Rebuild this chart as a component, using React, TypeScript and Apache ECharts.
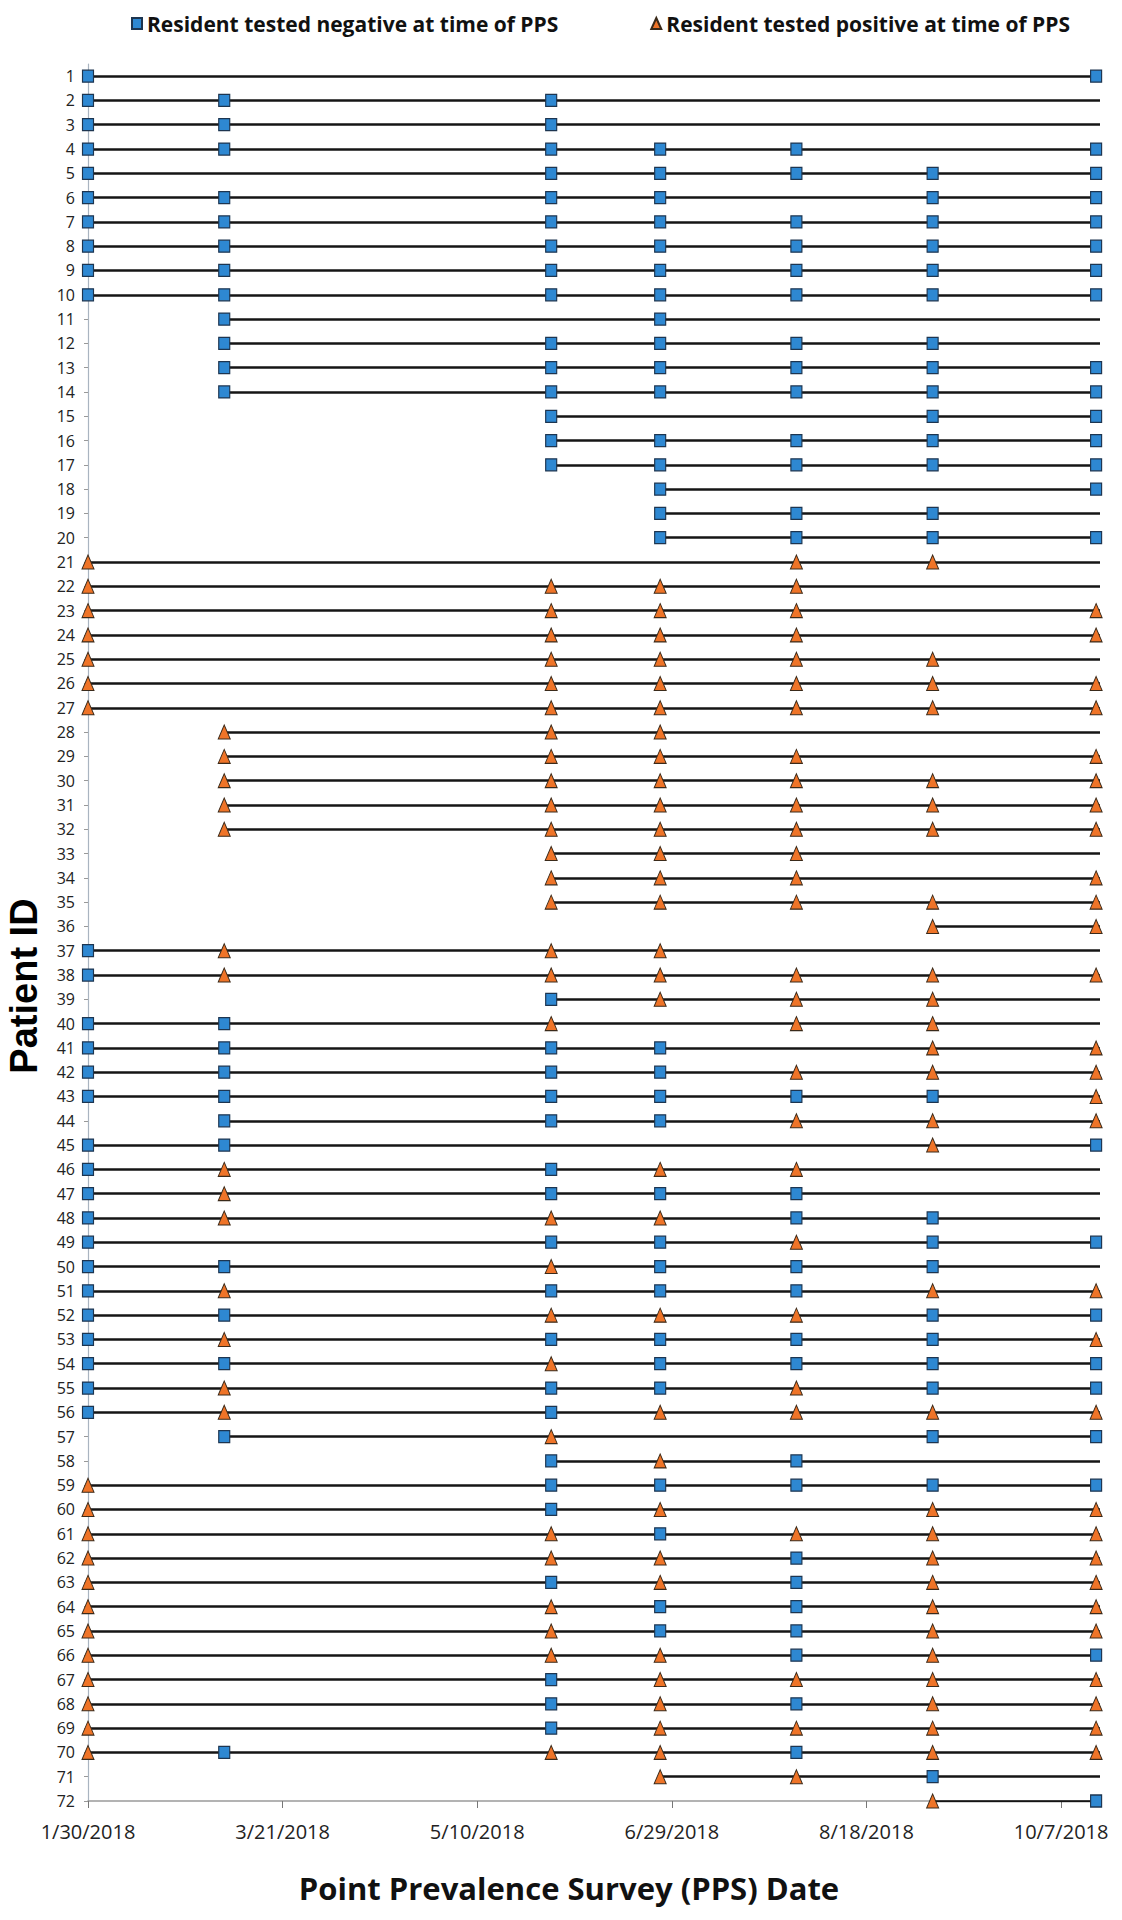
import React, { useEffect, useRef } from "react";
import * as echarts from "echarts";

// Survey (PPS) dates, columns A..G
const PPS_DATES = ["2018-01-30", "2018-03-06", "2018-05-29", "2018-06-26", "2018-07-31", "2018-09-04", "2018-10-16"];
const AXIS_START = "2018-01-30";
const AXIS_END = "2018-10-17";
const X_TICK_DATES = ["2018-01-30", "2018-03-21", "2018-05-10", "2018-06-29", "2018-08-18", "2018-10-07"];

const NEG_LABEL = "Resident tested negative at time of PPS";
const POS_LABEL = "Resident tested positive at time of PPS";

// One string per patient (ID 1..72); one char per PPS date: N = negative, P = positive, - = not tested
const PATIENT_RESULTS = [
  "N-----N", "NNN----", "NNN----", "NNNNN-N", "N-NNNNN", "NNNN-NN", "NNNNNNN", "NNNNNNN", "NNNNNNN", "NNNNNNN",
  "-N-N---", "-NNNNN-", "-NNNNNN", "-NNNNNN", "--N--NN", "--NNNNN", "--NNNNN", "---N--N", "---NNN-", "---NNNN",
  "P---PP-", "P-PPP--", "P-PPP-P", "P-PPP-P", "P-PPPP-", "P-PPPPP", "P-PPPPP", "-PPP---", "-PPPP-P", "-PPPPPP",
  "-PPPPPP", "-PPPPPP", "--PPP--", "--PPP-P", "--PPPPP", "-----PP", "NPPP---", "NPPPPPP", "--NPPP-", "NNP-PP-",
  "NNNN-PP", "NNNNPPP", "NNNNNNP", "-NNNPPP", "NN---PN", "NPNPP--", "NPNNN--", "NPPPNN-", "N-NNPNN", "NNPNNN-",
  "NPNNNPP", "NNPPPNN", "NPNNNNP", "NNPNNNN", "NPNNPNN", "NPNPPPP", "-NP--NN", "--NPN--", "P-NNNNN", "P-NP-PP",
  "P-PNPPP", "P-PPNPP", "P-NPNPP", "P-PNNPP", "P-PNNPP", "P-PPNPN", "P-NPPPP", "P-NPNPP", "P-NPPPP", "PNPPNPP",
  "---PPN-", "-----PN",
];

const DAY_MS = 86400000;
const dayOf = (s: string) => {
  const [y, m, d] = s.split("-").map(Number);
  const [y0, m0, d0] = AXIS_START.split("-").map(Number);
  return Math.round((Date.UTC(y, m - 1, d) - Date.UTC(y0, m0 - 1, d0)) / DAY_MS);
};
const fmtDay = (v: number) => {
  const [y0, m0, d0] = AXIS_START.split("-").map(Number);
  const dt = new Date(Date.UTC(y0, m0 - 1, d0) + Math.round(v) * DAY_MS);
  return `${dt.getUTCMonth() + 1}/${dt.getUTCDate()}/${dt.getUTCFullYear()}`;
};

export default function App() {
  const ref = useRef<HTMLDivElement>(null);
  useEffect(() => {
    if (!ref.current) return;
    const chart = echarts.init(ref.current, undefined, { renderer: "svg" });
    const xs = PPS_DATES.map(dayOf);
    const endX = dayOf(AXIS_END);
    const neg: number[][] = [];
    const pos: number[][] = [];
    const segs: any[] = [];
    const ids: number[] = [];
    PATIENT_RESULTS.forEach((r, i) => {
      const id = i + 1;
      ids.push(id);
      let first = -1;
      r.split("").forEach((c, j) => {
        if (c === "-") return;
        if (first < 0) first = j;
        if (c === "N") neg.push([xs[j], id]);
        else pos.push([xs[j], id]);
      });
      if (first >= 0) segs.push({ coords: [[xs[first], id], [endX, id]] });
    });
    const tickVals = X_TICK_DATES.map(dayOf);
    const font = "'Open Sans', 'Liberation Sans', sans-serif";

    chart.setOption({
      animation: false,
      backgroundColor: "#ffffff",
      grid: { left: 88, right: 22, top: 64, bottom: 119, outerBoundsMode: "none" },
      legend: {
        top: 8,
        left: 126,
        itemWidth: 10,
        itemHeight: 11,
        itemGap: 92,
        data: [NEG_LABEL, POS_LABEL],
        textStyle: { fontFamily: font, fontWeight: "bold", fontSize: 21, color: "#111" },
      },
      xAxis: {
        type: "value",
        min: 0,
        max: endX,
        splitLine: { show: false },
        axisLine: { onZero: false, lineStyle: { color: "#9a9a9a", width: 1.5 } },
        axisTick: { show: true, customValues: tickVals, length: 7, lineStyle: { color: "#777" } },
        axisLabel: {
          customValues: tickVals,
          formatter: (v: number) => fmtDay(v),
          fontFamily: font,
          fontSize: 20,
          color: "#222",
          margin: 20,
        },
      },
      yAxis: {
        type: "value",
        inverse: true,
        min: 0.5,
        max: ids.length,
        splitLine: { show: false },
        axisLine: { show: true, lineStyle: { color: "#a9b4c0", width: 1.2 } },
        axisTick: { show: true, customValues: ids, length: 4, lineStyle: { color: "#999" } },
        axisLabel: {
          customValues: ids,
          fontFamily: font,
          fontSize: 16,
          color: "#222",
          margin: 13,
        },
      },
      graphic: [
        {
          type: "text",
          x: 24,
          y: 986,
          rotation: Math.PI / 2,
          style: {
            text: "Patient ID",
            fontFamily: "'Liberation Sans', Arial, sans-serif",
            fontWeight: "bold",
            fontSize: 38,
            fill: "#000",
            textAlign: "center",
            textVerticalAlign: "middle",
          },
        },
        {
          type: "text",
          x: 569,
          y: 1888,
          style: {
            text: "Point Prevalence Survey (PPS) Date",
            fontFamily: font,
            fontWeight: "bold",
            fontSize: 31,
            fill: "#111",
            textAlign: "center",
            textVerticalAlign: "middle",
          },
        },
      ],
      series: [
        {
          type: "lines",
          coordinateSystem: "cartesian2d",
          silent: true,
          z: 1,
          lineStyle: { color: "#151515", width: 2.5, opacity: 1 },
          data: segs,
        },
        {
          name: NEG_LABEL,
          type: "scatter",
          z: 3,
          symbol: "rect",
          symbolSize: [11, 12],
          itemStyle: { color: "#2e88d2", borderColor: "#1d3550", borderWidth: 1.2, opacity: 1 },
          data: neg,
        },
        {
          name: POS_LABEL,
          type: "scatter",
          z: 3,
          symbol: "triangle",
          symbolSize: [12, 14],
          itemStyle: { color: "#ef7428", borderColor: "#3a2a1a", borderWidth: 1, opacity: 1 },
          data: pos,
        },
      ],
    });
    return () => chart.dispose();
  }, []);
  return <div ref={ref} style={{ position: "absolute", left: 0, top: 0, width: 1122, height: 1920 }} />;
}
